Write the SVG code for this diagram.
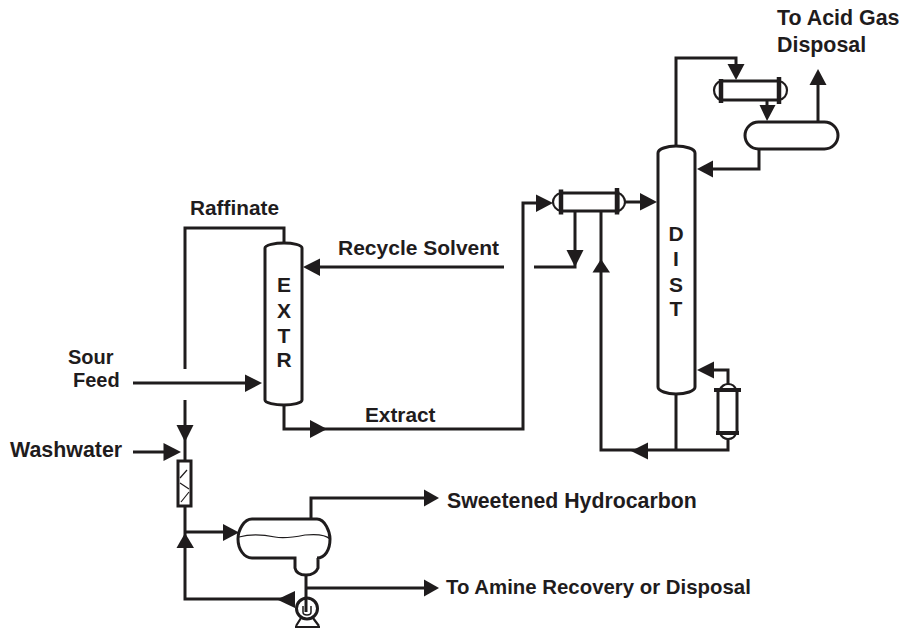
<svg xmlns="http://www.w3.org/2000/svg" width="904" height="628" viewBox="0 0 904 628">
<style>
text{font-family:"Liberation Sans",Arial,sans-serif;font-weight:700;font-size:21px;fill:#1f1c1d}
.c{text-anchor:middle}
.l{fill:none;stroke:#1f1c1d;stroke-width:3}
.t{fill:none;stroke:#1f1c1d;stroke-width:2.2}
.s{fill:none;stroke:#1f1c1d;stroke-width:4.5}
.n{fill:#fff;stroke:#1f1c1d;stroke-width:3}
.a{fill:#1f1c1d}
</style>
<rect width="904" height="628" fill="#fff"/>
<g id="connectors">
<path class="l" d="M185 369V228H284V244"/>
<path class="l" d="M133 383H247"/><path class="a" d="M245 374.500V392L262 383Z"/>
<path class="l" d="M504 267H318"/><path class="a" d="M320 258.500V276L303 267Z"/>
<path class="l" d="M185 400V461"/><path class="a" d="M176.500 425H193.500L185 442Z"/>
<path class="l" d="M133 452H166"/><path class="a" d="M163.500 443V461L181 452Z"/>
<path class="l" d="M284 404V429H523V203H538"/>
<path class="a" d="M310 420V438L327 429Z"/><path class="a" d="M536 194.500V212L553 203Z"/>
<path class="l" d="M625 202H642"/><path class="a" d="M640 193V210.500L657 202Z"/>
<path class="l" d="M534 267H575V211"/><path class="a" d="M566.500 250H583.500L575 267Z"/>
<path class="l" d="M601 211V450H728V438"/><path class="a" d="M592.500 272.500H610L601 259Z"/>
<path class="a" d="M648 442.500V459.500L631 451Z"/>
<path class="l" d="M676 393V450"/>
<path class="l" d="M728 384V370H712"/><path class="a" d="M714 361.500V378.500L697 370Z"/>
<path class="l" d="M676 147V58H736V66"/><path class="a" d="M727.500 64H744.500L736 80Z"/>
<path class="l" d="M767 100V107"/><path class="a" d="M759.500 105H775.500L767 121Z"/>
<path class="l" d="M818 122V83"/><path class="a" d="M809.500 85H826.500L818 69Z"/>
<path class="l" d="M759 149V169H712"/><path class="a" d="M713 160.500V177.500L697 169Z"/>
<path class="l" d="M185 506V599H295"/><path class="a" d="M176.500 548H194L185 533Z"/>
<path class="l" d="M185 532H225"/><path class="a" d="M223 524V541L239 532.500Z"/>
<path class="a" d="M295 591V608L277 599.500Z"/>
<path class="l" d="M311 519V498H426"/><path class="a" d="M424 489.500V506.500L439 498Z"/>
<path class="l" d="M306 575V610"/>
<path class="l" d="M306 588H426"/><path class="a" d="M424 579.500V596.500L439 588Z"/>
</g>
<g id="extr">
<path class="n" d="M265 248C265 245 275 243 284 243C293 243 302 245 302 248V400C302 403 293 405 284 405C275 405 265 403 265 400Z"/>
<text class="c" x="284" y="292">E</text><text class="c" x="284" y="318">X</text><text class="c" x="284" y="343">T</text><text class="c" x="284" y="367">R</text>
</g>
<g id="dist">
<path class="n" d="M658 153C658 149 667 146 676 146C686 146 695 149 695 153V387C695 391 686 394 676 394C667 394 658 391 658 387Z"/>
<text class="c" x="676" y="241">D</text><text class="c" x="676" y="266">I</text><text class="c" x="676" y="292">S</text><text class="c" x="676" y="316">T</text>
</g>
<g id="feed-exchanger">
<path class="t" d="M561 193C556 194 553 198 553 202C553 206 556 210 561 211M618 193C622 194 625 198 625 202C625 206 622 210 618 211"/>
<rect class="l" x="561" y="193" width="57" height="18"/>
<path class="s" d="M561 189.500V214.500M617 188V214.500"/>
</g>
<g id="condenser">
<path class="t" d="M721 81C717 82 714 86 714 90C714 95 717 99 721 100M779 81C784 82 787 86 787 90C787 95 784 99 779 100"/>
<rect class="l" x="721" y="81" width="58" height="19"/>
<path class="s" d="M721 79V103M779 77V104"/>
</g>
<g id="reflux-drum">
<rect class="n" x="745" y="122" width="93" height="27" rx="13.5"/>
</g>
<g id="reboiler">
<path class="t" d="M720 390C721 386 725 384 728 384C732 384 735 386 736 390M720 433C721 437 725 439 728 439C732 439 735 437 736 433"/>
<rect class="l" x="718" y="390" width="19" height="43"/>
<path class="l" style="stroke-width:4" d="M714 390H741M716 433H739"/>
</g>
<g id="mixer">
<rect class="n" x="178" y="461" width="13" height="45"/>
<path d="M180 478L187 470M180 483L189 489M189 492L181 502" fill="none" stroke="#1f1c1d" stroke-width="1.2"/>
</g>
<g id="separator">
<path class="n" d="M252 519H317C325 519 330 532 330 539C330 550 325 558 317 558H318V568C316 573 311 575 306 575C301 575 296 573 295 568V558H252C244 558 238 549 238 539C238 530 244 519 252 519Z"/>
<path d="M239 537C250 534 265 535 275 537C285 539 295 537 305 535C315 534 325 534 330 539" fill="none" stroke="#1f1c1d" stroke-width="1.2"/>
</g>
<g id="pump">
<circle class="n" cx="307" cy="608.500" r="10.500"/>
<path d="M303 606V612C303 616 311 616 311 612V606" fill="none" stroke="#1f1c1d" stroke-width="1.5"/>
<path class="t" d="M301 618L296 626M313 618L319 626M295 627H320"/>
<path class="l" d="M306 599V612"/>
</g>
<g id="labels">
<text x="777" y="25" style="font-size:21.4px">To Acid Gas</text>
<text x="777" y="52" style="font-size:21.4px">Disposal</text>
<text x="190" y="215" style="font-size:20.800px">Raffinate</text>
<text x="338" y="255">Recycle Solvent</text>
<text x="68" y="364" style="font-size:20px">Sour</text>
<text x="73" y="387" style="font-size:20px">Feed</text>
<text x="10" y="457" style="font-size:21.400px">Washwater</text>
<text x="365" y="422" style="font-size:20.800px">Extract</text>
<text x="447" y="508" style="font-size:21.300px">Sweetened Hydrocarbon</text>
<text x="446" y="594" style="font-size:20.400px">To Amine Recovery or Disposal</text>
</g>
</svg>
